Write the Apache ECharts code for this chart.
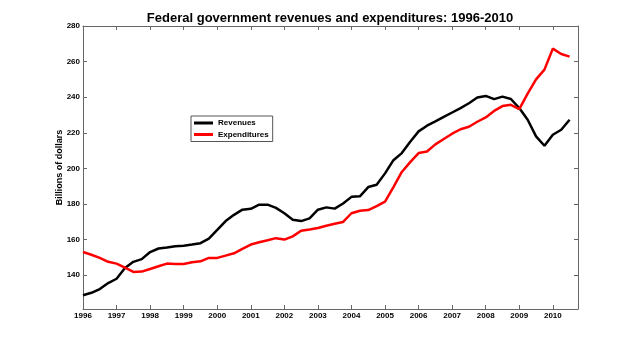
<!DOCTYPE html>
<html>
<head>
<meta charset="utf-8">
<script src="https://cdn.jsdelivr.net/npm/echarts@6/dist/echarts.min.js"></script>
<style>html,body{margin:0;padding:0;background:#fff}#c{width:640px;height:348px}</style>
</head>
<body>
<div id="c"></div>
<script>
const titleText = 'Federal government revenues and expenditures: 1996-2010';
const yAxisName = 'Billions of dollars';
const quarters = ['1996Q1','1996Q2','1996Q3','1996Q4','1997Q1','1997Q2','1997Q3','1997Q4',
'1998Q1','1998Q2','1998Q3','1998Q4','1999Q1','1999Q2','1999Q3','1999Q4',
'2000Q1','2000Q2','2000Q3','2000Q4','2001Q1','2001Q2','2001Q3','2001Q4',
'2002Q1','2002Q2','2002Q3','2002Q4','2003Q1','2003Q2','2003Q3','2003Q4',
'2004Q1','2004Q2','2004Q3','2004Q4','2005Q1','2005Q2','2005Q3','2005Q4',
'2006Q1','2006Q2','2006Q3','2006Q4','2007Q1','2007Q2','2007Q3','2007Q4',
'2008Q1','2008Q2','2008Q3','2008Q4','2009Q1','2009Q2','2009Q3','2009Q4',
'2010Q1','2010Q2','2010Q3'];
const revenues = [128.7,130.1,132.2,135.6,138.0,144.0,147.5,149.0,
153.0,155.0,155.5,156.2,156.5,157.2,158.0,160.5,
165.4,170.4,173.9,176.8,177.3,179.6,179.6,177.8,
174.8,171.2,170.4,171.9,176.8,178.1,177.4,180.3,
184.0,184.3,189.5,190.8,197.2,204.6,208.6,215.0,
220.8,224.0,226.4,228.9,231.4,233.9,236.6,239.8,
240.7,238.9,240.3,239.0,233.9,227.3,218.0,212.7,
218.9,221.7,227.3];
const expenditures = [153.0,151.5,149.7,147.5,146.5,144.2,141.8,142.0,
143.5,145.0,146.5,146.3,146.3,147.3,147.8,149.7,
149.7,151.0,152.3,154.8,157.2,158.5,159.6,160.8,
160.0,161.8,165.0,165.7,166.5,167.8,168.9,169.9,
174.8,176.2,176.6,178.8,181.3,189.5,198.0,203.5,
208.6,209.5,213.5,216.5,219.5,222.0,223.4,226.2,
228.6,232.3,235.0,235.7,233.3,242.0,250.0,255.5,
267.3,264.3,262.8];
const xTicks = [1996,1997,1998,1999,2000,2001,2002,2003,2004,2005,2006,2007,2008,2009,2010];
const yTicks = [140,160,180,200,220,240,260,280];

function qToYear(q){ const y = parseInt(q.slice(0,4),10); const n = parseInt(q.slice(5),10); return y + (n-1)/4; }
const revData = revenues.map((v,i)=>[qToYear(quarters[i]), v]);
const expData = expenditures.map((v,i)=>[qToYear(quarters[i]), v]);

const FONT = '"Liberation Sans", Arial, sans-serif';
const axisLineStyle = {lineStyle:{color:'#666', width:1}};
const tickStyle = {inside:true, length:4, lineStyle:{color:'#666', width:1}};

const chart = echarts.init(document.getElementById('c'), null, {renderer:'canvas'});
chart.setOption({
  animation:false,
  backgroundColor:'#fff',
  title:{text:titleText, left:325, textAlign:'center', top:7,
    textStyle:{fontFamily:FONT, fontSize:13, fontWeight:'bold', color:'#000'}},
  grid:{left:83, right:62, top:26, bottom:39},
  legend:{left:191, top:116, orient:'vertical', icon:'rect', itemWidth:19, itemHeight:3, itemGap:1.5,
    padding:[2,4,2,3], borderColor:'#555', borderWidth:1, backgroundColor:'#fff',
    textStyle:{fontFamily:FONT, fontSize:8, fontWeight:'bold', color:'#000', lineHeight:10},
    data:['Revenues','Expenditures']},
  xAxis:[
    {type:'value', min:1996, max:2010.75, position:'bottom',
     axisLine:axisLineStyle, axisTick:Object.assign({customValues:xTicks}, tickStyle),
     splitLine:{show:false},
     axisLabel:{customValues:xTicks, formatter:v=>String(v), margin:3,
       fontFamily:FONT, fontSize:8, fontWeight:'bold', color:'#000'}},
    {type:'value', min:1996, max:2010.75, position:'top',
     axisLine:axisLineStyle, axisTick:Object.assign({customValues:xTicks}, tickStyle),
     splitLine:{show:false}, axisLabel:{show:false}}
  ],
  yAxis:[
    {type:'value', min:121, max:280, position:'left',
     name:yAxisName, nameLocation:'middle', nameGap:19, nameRotate:90, nameMoveOverlap:false,
     nameTextStyle:{fontFamily:FONT, fontSize:9, fontWeight:'bold', color:'#000'},
     axisLine:{show:true, lineStyle:{color:'#666', width:1}},
     axisTick:Object.assign({customValues:yTicks}, tickStyle),
     splitLine:{show:false},
     axisLabel:{customValues:yTicks, formatter:v=>String(v), margin:3,
       fontFamily:FONT, fontSize:8, fontWeight:'bold', color:'#000'}},
    {type:'value', min:121, max:280, position:'right',
     axisLine:{show:true, lineStyle:{color:'#666', width:1}},
     axisTick:Object.assign({customValues:yTicks}, tickStyle),
     splitLine:{show:false}, axisLabel:{show:false}}
  ],
  series:[
    {name:'Revenues', type:'line', data:revData, xAxisIndex:0, yAxisIndex:0,
     showSymbol:false, symbol:'none', color:'#000', lineStyle:{color:'#000', width:2.5}},
    {name:'Expenditures', type:'line', data:expData, xAxisIndex:0, yAxisIndex:0,
     showSymbol:false, symbol:'none', color:'#ff0000', lineStyle:{color:'#ff0000', width:2.5}}
  ]
});
</script>
</body>
</html>
